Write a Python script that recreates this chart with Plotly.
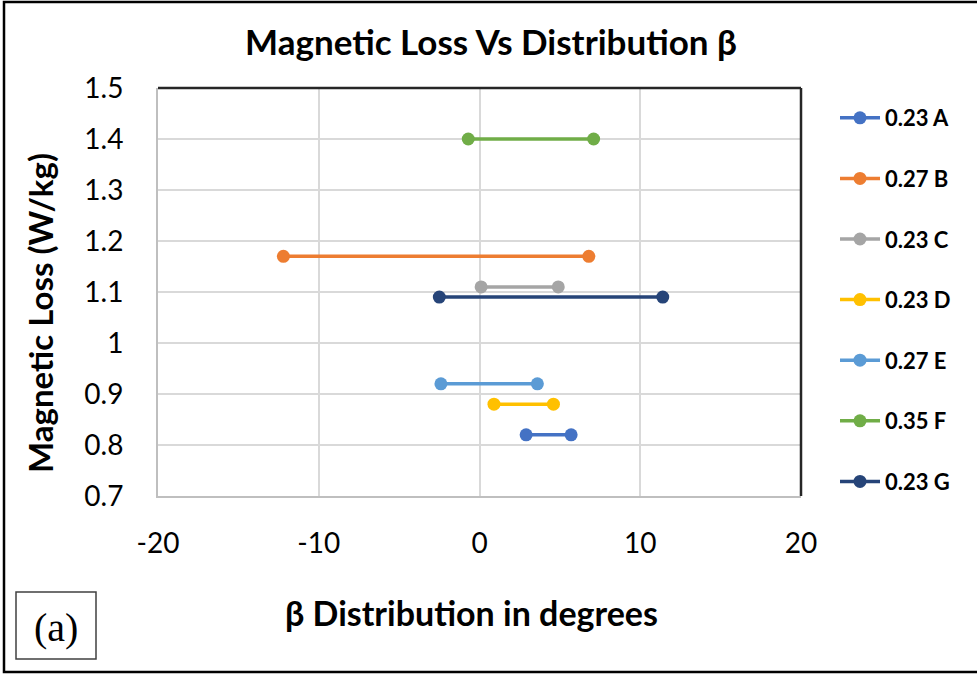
import plotly.graph_objects as go

# Series: grade/label, beta range endpoints (degrees), magnetic loss (W/kg)
series_names = ["0.23 A", "0.27 B", "0.23 C", "0.23 D", "0.27 E", "0.35 F", "0.23 G"]
beta_min = [2.9, -12.2, 0.1, 0.9, -2.4, -0.7, -2.5]
beta_max = [5.7, 6.8, 4.9, 4.6, 3.6, 7.1, 11.4]
loss = [0.82, 1.17, 1.11, 0.88, 0.92, 1.40, 1.09]
colors = ["#4472C4", "#ED7D31", "#A5A5A5", "#FFC000", "#5B9BD5", "#70AD47", "#264478"]

x_ticks = [-20, -10, 0, 10, 20]
y_ticks = [0.7, 0.8, 0.9, 1.0, 1.1, 1.2, 1.3, 1.4, 1.5]
y_tick_text = ["0.7", "0.8", "0.9", "1", "1.1", "1.2", "1.3", "1.4", "1.5"]

W, H = 977, 674
L, R, T, B = 158, 176, 88, 178
PW, PH = W - L - R, H - T - B


def px_x(p):
    return (p - L) / PW


def px_y(p):
    return (H - B - p) / PH


FONT = "Lato"

fig = go.Figure()
for name, lo, hi, y, c in zip(series_names, beta_min, beta_max, loss, colors):
    fig.add_trace(go.Scatter(
        x=[lo, hi], y=[y, y], name=name, legendgroup=name,
        mode="lines+markers",
        line=dict(color=c, width=3.5),
        marker=dict(color=c, size=13),
    ))

fig.update_layout(
    width=W, height=H,
    margin=dict(l=L, r=R, t=T, b=B, autoexpand=False),
    paper_bgcolor="white", plot_bgcolor="white",
    font=dict(family=FONT, color="black"),
    title=dict(text="<b>Magnetic Loss Vs Distribution β</b>",
               x=px_x(491), xanchor="center", xref="paper",
               y=1 - 43 / H, yanchor="middle",
               font=dict(size=35, family=FONT, color="black")),
    showlegend=True,
    legend=dict(x=px_x(835), xanchor="left", y=px_y(97), yanchor="top",
                font=dict(size=22, family=FONT, color="black", weight="bold"),
                tracegroupgap=29, itemwidth=40, maxheight=640,
                bgcolor="rgba(0,0,0,0)"),
    xaxis=dict(range=[-20, 20], tickvals=x_ticks, ticktext=[str(v) for v in x_ticks],
               showgrid=True, gridcolor="#D9D9D9", gridwidth=1.5,
               showline=True, linecolor="#BFBFBF", linewidth=2,
               zeroline=False, ticks="", ticklabelstandoff=21,
               tickfont=dict(size=28, family=FONT, color="black")),
    yaxis=dict(range=[0.7, 1.5], tickvals=y_ticks, ticktext=y_tick_text,
               showgrid=True, gridcolor="#D9D9D9", gridwidth=1.5,
               showline=True, linecolor="#BFBFBF", linewidth=2,
               zeroline=False, ticks="", ticklabelstandoff=27,
               tickfont=dict(size=28, family=FONT, color="black")),
)

# Axis titles
fig.add_annotation(text="<b>Magnetic Loss (W/kg)</b>", xref="paper", yref="paper",
                   x=px_x(40), y=px_y(313), xanchor="center", yanchor="middle",
                   textangle=-90, showarrow=False,
                   font=dict(size=33, family=FONT, color="black"))
fig.add_annotation(text="<b>β Distribution in degrees</b>", xref="paper", yref="paper",
                   x=px_x(471), y=px_y(612), xanchor="center", yanchor="middle",
                   showarrow=False,
                   font=dict(size=34, family=FONT, color="black"))

# Dark top and right edges of the plot frame
fig.add_shape(type="line", xref="paper", yref="paper", x0=0, x1=1, y0=1, y1=1,
              line=dict(color="#262626", width=2.5))
fig.add_shape(type="line", xref="paper", yref="paper", x0=1, x1=1, y0=0, y1=1,
              line=dict(color="#262626", width=2.5))

# Outer figure frame
fig.add_shape(type="rect", xref="paper", yref="paper",
              x0=px_x(4), x1=px_x(980), y0=px_y(672), y1=px_y(2),
              line=dict(color="black", width=2.5))

# Panel label box
fig.add_shape(type="rect", xref="paper", yref="paper",
              x0=px_x(16), x1=px_x(96), y0=px_y(659), y1=px_y(592),
              line=dict(color="#404040", width=1.5))
fig.add_annotation(text="(a)", xref="paper", yref="paper",
                   x=px_x(56), y=px_y(627), xanchor="center", yanchor="middle",
                   showarrow=False,
                   font=dict(size=40, family="Liberation Serif", color="black"))

fig.write_html("out.html")
